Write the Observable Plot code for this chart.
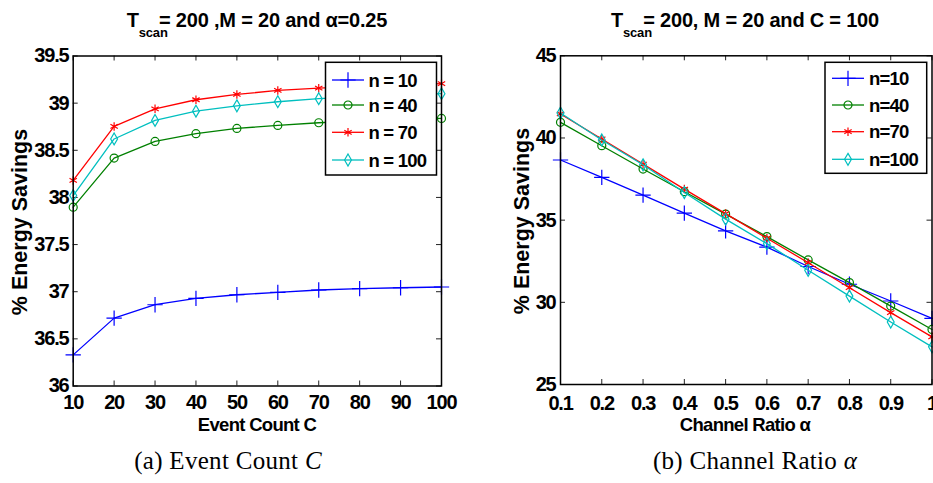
<!DOCTYPE html>
<html>
<head>
<meta charset="utf-8">
<script src="https://cdn.jsdelivr.net/npm/d3@7"></script>
<script src="https://cdn.jsdelivr.net/npm/@observablehq/plot@0.6"></script>
<style>
  html, body { margin: 0; padding: 0; background: #fff; overflow: hidden; }
  #fig { position: relative; width: 933px; height: 483px; overflow: hidden; background: #fff; }
  .panel { position: absolute; top: 0; }
  .panel svg { max-width: none !important; overflow: visible; }
  #overlay { position: absolute; left: 0; top: 0; pointer-events: none; }
</style>
</head>
<body>
<div id="fig">
  <div id="panelA" class="panel" style="left:0px"></div>
  <div id="panelB" class="panel" style="left:466px"></div>
</div>
<script>
// ---------- data ----------
const seriesNamesA = ["n = 10", "n = 40", "n = 70", "n = 100"];
const seriesNamesB = ["n=10", "n=40", "n=70", "n=100"];
const seriesColors = ["#0000ff", "#008000", "#ff0000", "#00bfbf"];
const seriesSymbols = ["plus", "circle", "asterisk", "diamond"];

// (a) Event Count C
const eventCounts = [10, 20, 30, 40, 50, 60, 70, 80, 90, 100];
const savingsC_n10  = [36.33, 36.72, 36.862, 36.929, 36.968, 36.993, 37.018, 37.032, 37.042, 37.05];
const savingsC_n40  = [37.897, 38.417, 38.594, 38.676, 38.732, 38.764, 38.792, 38.812, 38.826, 38.838];
const savingsC_n70  = [38.18, 38.753, 38.94, 39.036, 39.092, 39.135, 39.159, 39.178, 39.193, 39.206];
const savingsC_n100 = [38.02, 38.62, 38.817, 38.915, 38.972, 39.015, 39.047, 39.068, 39.085, 39.1];
const xTicksA = [10, 20, 30, 40, 50, 60, 70, 80, 90, 100];
const yTicksA = [36, 36.5, 37, 37.5, 38, 38.5, 39, 39.5];

// (b) Channel Ratio alpha
const channelRatios = [0.1, 0.2, 0.3, 0.4, 0.5, 0.6, 0.7, 0.8, 0.9, 1.0];
const savingsA_n10  = [38.66, 37.6, 36.52, 35.43, 34.35, 33.36, 32.18, 31.1, 30.08, 29.02];
const savingsA_n40  = [40.95, 39.53, 38.11, 36.73, 35.37, 34.0, 32.58, 31.2, 29.77, 28.35];
const savingsA_n70  = [41.46, 39.94, 38.41, 36.89, 35.4, 33.9, 32.41, 30.89, 29.37, 27.9];
const savingsA_n100 = [41.52, 39.88, 38.37, 36.68, 35.06, 33.57, 31.95, 30.38, 28.8, 27.29];
const xTicksB = [0.1, 0.2, 0.3, 0.4, 0.5, 0.6, 0.7, 0.8, 0.9, 1.0];
const yTicksB = [25, 30, 35, 40, 45];

// ---------- styling ----------
const markerR = [5, 4, 4, 3.6];
const axisFont = {fontFamily: "'Liberation Sans', Arial, sans-serif", fontSize: 20, fontWeight: "bold"};

function panel(o) {
  const innerW = o.width - o.ml - o.mr;
  const innerH = o.height - o.mt - o.mb;
  const tickLen = 5;
  const marks = [
    Plot.tickX(o.xTicks, {x: d => d, insetTop: innerH - tickLen, stroke: "#222", strokeWidth: 1}),
    Plot.tickX(o.xTicks, {x: d => d, insetBottom: innerH - tickLen, stroke: "#222", strokeWidth: 1}),
    Plot.tickY(o.yTicks, {y: d => d, insetRight: innerW - tickLen, stroke: "#222", strokeWidth: 1}),
    Plot.tickY(o.yTicks, {y: d => d, insetLeft: innerW - tickLen, stroke: "#222", strokeWidth: 1})
  ];
  o.series.forEach((vals, i) => {
    const rows = vals.map((v, j) => ({x: o.xValues[j], y: v, s: o.names[i]}));
    marks.push(Plot.line(rows, {x: "x", y: "y", stroke: seriesColors[i], strokeWidth: 1.3}));
    marks.push(Plot.dot(rows, {x: "x", y: "y", symbol: seriesSymbols[i], r: markerR[i],
      stroke: seriesColors[i], fill: "none", strokeWidth: 1.2}));
  });
  marks.push(Plot.frame({stroke: "#000", strokeWidth: 1.5}));
  marks.push(Plot.axisX(o.xTicks, {tickSize: 0, tickPadding: o.xPad, tickFormat: o.xFormat, label: null, ...axisFont}));
  marks.push(Plot.axisY(o.yTicks, {tickSize: 0, tickPadding: o.yPad, tickFormat: o.yFormat, label: null, ...axisFont}));
  return Plot.plot({
    width: o.width, height: o.height,
    marginLeft: o.ml, marginRight: o.mr, marginTop: o.mt, marginBottom: o.mb,
    x: {domain: o.xDomain}, y: {domain: o.yDomain},
    style: {fontFamily: "'Liberation Sans', Arial, sans-serif", fontSize: "20px", fontWeight: "bold",
            letterSpacing: "-1.2px", background: "transparent", color: "#000", overflow: "visible"},
    marks
  });
}

const plotA = panel({
  xValues: eventCounts, series: [savingsC_n10, savingsC_n40, savingsC_n70, savingsC_n100], names: seriesNamesA,
  xDomain: [10, 100], yDomain: [36, 39.5], xTicks: xTicksA, yTicks: yTicksA,
  xFormat: d => String(d), yFormat: d => String(d),
  width: 466, height: 420, ml: 72.7, mr: 25, mt: 55.5, mb: 34.5, xPad: 9, yPad: 4.7
});
document.getElementById("panelA").appendChild(plotA);

const plotB = panel({
  xValues: channelRatios, series: [savingsA_n10, savingsA_n40, savingsA_n70, savingsA_n100], names: seriesNamesB,
  xDomain: [0.1, 1], yDomain: [25, 45], xTicks: xTicksB, yTicks: yTicksB,
  xFormat: d => (d === 1 ? "1" : d.toFixed(1)), yFormat: d => String(d),
  width: 467, height: 420, ml: 94, mr: 1.5, mt: 55.3, mb: 36, xPad: 11, yPad: 5
});
document.getElementById("panelB").appendChild(plotB);

// ---------- titles, labels, captions, legends ----------
const svg = d3.select("#fig").append("svg").attr("id", "overlay").attr("width", 933).attr("height", 483);
const sans = "'Liberation Sans', Arial, sans-serif";

function title(cx, rest) {
  const t = svg.append("text").attr("x", cx).attr("y", 27).attr("text-anchor", "middle")
    .attr("font-family", sans).attr("font-weight", "bold").attr("font-size", 20).attr("letter-spacing", "-0.2px");
  t.append("tspan").text("T");
  t.append("tspan").attr("font-size", 13).attr("dy", 10).text("scan");
  t.append("tspan").attr("dy", -10).attr("dx", -14).text(rest);
}
title(257, " = 200 ,M = 20 and α=0.25");
title(745, " = 200, M = 20 and C = 100");

function xlabel(cx, txt) {
  svg.append("text").attr("x", cx).attr("y", 431).attr("text-anchor", "middle")
    .attr("font-family", sans).attr("font-weight", "bold").attr("font-size", 18.5).attr("letter-spacing", "-0.7px").text(txt);
}
xlabel(257, "Event Count C");
xlabel(745, "Channel Ratio α");

function ylabel(bx, cy) {
  svg.append("text").attr("transform", `translate(${bx},${cy}) rotate(-90)`).attr("text-anchor", "middle")
    .attr("font-family", sans).attr("font-weight", "bold").attr("font-size", 21.5).text("% Energy Savings");
}
ylabel(27, 222);
ylabel(529, 221);

function caption(cx, label, italic) {
  const t = svg.append("text").attr("x", cx).attr("y", 469).attr("text-anchor", "middle")
    .attr("font-family", "'Liberation Serif', 'DejaVu Serif', serif").attr("font-size", 25).attr("letter-spacing", "0.3px");
  t.append("tspan").text(label);
  t.append("tspan").attr("font-style", "italic").text(italic);
}
caption(228, "(a) Event Count ", "C");
caption(755, "(b) Channel Ratio ", "α");

function legend(x, y, w, h, names, rowY, lineX0, lineX1, textX) {
  const g = svg.append("g").attr("transform", `translate(${x},${y})`);
  g.append("rect").attr("width", w).attr("height", h).attr("fill", "#fff").attr("stroke", "#000").attr("stroke-width", 1.5);
  names.forEach((n, i) => {
    const cy = rowY[i];
    g.append("line").attr("x1", lineX0).attr("x2", lineX1).attr("y1", cy).attr("y2", cy)
      .attr("stroke", seriesColors[i]).attr("stroke-width", 1.3);
    const sym = {plus: d3.symbolPlus, circle: d3.symbolCircle, asterisk: d3.symbolAsterisk, diamond: d3.symbolDiamond}[seriesSymbols[i]];
    g.append("path").attr("transform", `translate(${(lineX0 + lineX1) / 2},${cy})`)
      .attr("d", d3.symbol(sym, Math.PI * markerR[i] * markerR[i])())
      .attr("fill", "none").attr("stroke", seriesColors[i]).attr("stroke-width", 1.2);
    g.append("text").attr("x", textX).attr("y", cy + 6.7).attr("font-family", sans).attr("font-weight", "bold")
      .attr("font-size", 18.5).attr("letter-spacing", "-0.8px").text(n);
  });
}
legend(325.5, 62.3, 111, 112.7, seriesNamesA, [17.7, 42.7, 70, 97.7], 6.5, 38.5, 43);
legend(825, 62.3, 101.7, 111, seriesNamesB, [16, 42.7, 69.4, 97], 7, 39, 44);
</script>
</body>
</html>
